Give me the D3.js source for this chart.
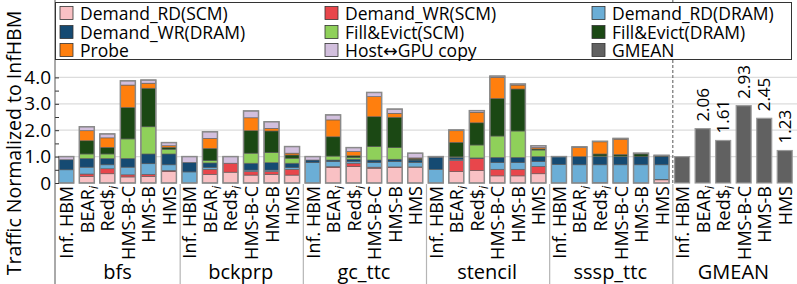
<!DOCTYPE html>
<html>
<head>
<meta charset="utf-8">
<script src="https://cdn.jsdelivr.net/npm/d3@7"></script>
<style>
  body { margin: 0; background: #fff; }
  svg text { font-family: "Open Sans", "DejaVu Sans", sans-serif; fill: #000; }
</style>
</head>
<body>
<div id="chart"></div>
<script>
// benchmarks and configurations
const groups = ["bfs", "bckprp", "gc_ttc", "stencil", "sssp_ttc", "GMEAN"];
const configs = ["Inf. HBM", "BEAR", "Red$", "HMS-B-C", "HMS-B", "HMS"];
const configSub = ["", "i", "i", "", "", ""];

const seriesNames = ["Demand_RD(SCM)", "Demand_WR(SCM)", "Demand_RD(DRAM)", "Demand_WR(DRAM)",
                     "Fill&Evict(SCM)", "Fill&Evict(DRAM)", "Probe", "Host\u2194GPU copy"];
const seriesColors = ["#f9c1c4", "#e8464b", "#6baed6", "#154a72",
                      "#8fd05a", "#1b4814", "#ff7f0e", "#d2bfdd"];
const gmeanColor = "#616161";

// one value per bar: bfs, bckprp, gc_ttc, stencil, sssp_ttc (x 6 configs each)
const demandRdScm  = [0, .25, .35, .23, .25, .43,   0, .33, .41, .30, .33, .30,   0, .58, .62, .56, .58, .60,   0, .43, .47, .27, .27, .35,   0, 0, 0, 0, 0, .12];
const demandWrScm  = [0, .09, .19, .08, .08, .04,   0, .19, .34, .13, .10, .22,   0, .04, .13, .04, .03, .01,   0, .42, .46, .25, .25, .28,   0, 0, .02, 0, 0, .02];
const demandRdDram = [.50, .26, .15, .29, .40, .22, .42, .07, 0, .06, .06, .06, .77, .19, .06, .17, .20, .17, .52, .05, 0, .25, .25, .18, .70, .69, .67, .69, .69, .55];
const demandWrDram = [.38, .33, .24, .33, .37, .41, .36, .17, 0, .26, .28, .17, .10, .06, .09, .10, .09, .09, .46, .07, .02, .20, .20, .19, .30, .31, .31, .31, .31, .31];
const fillEvictScm = [0, .17, .17, .74, 1.03, .18,  0, .09, 0, .38, .38, .19,   0, .15, .07, .51, .44, .02,   0, .02, .49, .81, 1.00, .25,  0, 0, .02, .02, 0, 0];
const fillEvictDram= [0, .50, .25, 1.19, 1.46, .07, 0, .46, 0, .85, .82, .12,   0, .73, .06, 1.13, 1.15, .04, 0, .55, .84, 1.42, 1.59, .04, 0, 0, .08, .06, .10, .02];
const probe        = [0, .38, .36, .85, .19, .06,   0, .38, 0, .49, .10, .07,   0, .64, .16, .76, .15, .02,   0, .44, .40, .80, .15, .05,   0, .35, .46, .58, 0, 0];
const hostCopy     = [.12, .15, .15, .16, .12, .12, .22, .25, .25, .26, .25, .25, .13, .19, .15, .16, .16, .18, .02, .03, .06, .05, .04, .07, 0, .02, .02, .03, .03, .03];
const gmean = [1.00, 2.06, 1.61, 2.93, 2.45, 1.23];

const yTicks = [0, 1, 2, 3, 4];
const yTickLabels = ["0", "1.0", "2.0", "3.0", "4.0"];

const series = [demandRdScm, demandWrScm, demandRdDram, demandWrDram,
                fillEvictScm, fillEvictDram, probe, hostCopy];

const WIDTH = 797, HEIGHT = 284;
const LEFT = 56, RIGHT = 795, BASE = 183;

const svg = d3.select("#chart").append("svg")
    .attr("width", WIDTH).attr("height", HEIGHT);

// every bar gets a key "group|config"
const barKeys = [];
groups.forEach(g => configs.forEach(c => barKeys.push(g + "|" + c)));

const x = d3.scaleBand().domain(barKeys).range([LEFT, RIGHT])
    .paddingInner(0.27).paddingOuter(0.135);
const y = d3.scaleLinear().domain([0, 4]).range([BASE, BASE - 4 * 26.4]);
const step = x.step();

// grid lines
svg.append("g").selectAll("line")
   .data(yTicks.filter(d => d > 0))
   .enter().append("line")
   .attr("x1", LEFT - 1).attr("x2", WIDTH)
   .attr("y1", d => y(d)).attr("y2", d => y(d))
   .attr("stroke", "#dcdcdc").attr("stroke-width", 1.2);

// stacked bars
const stackRows = [];
for (let b = 0; b < 30; b++) {
    let acc = 0;
    series.forEach((s, i) => {
        const v = s[b];
        if (v > 0) stackRows.push({key: barKeys[b], y0: acc, y1: acc + v, color: seriesColors[i]});
        acc += v;
    });
}
svg.append("g").selectAll("rect")
   .data(stackRows)
   .enter().append("rect")
   .attr("x", d => x(d.key))
   .attr("width", x.bandwidth())
   .attr("y", d => y(d.y1))
   .attr("height", d => y(d.y0) - y(d.y1))
   .attr("fill", d => d.color)
   .attr("stroke", "#5a5a5a").attr("stroke-width", 0.6);

// outline of every stacked bar
const totals = d3.range(30).map(b => ({key: barKeys[b], v: d3.sum(series, s => s[b])}));
svg.append("g").selectAll("rect")
   .data(totals)
   .enter().append("rect")
   .attr("x", d => x(d.key))
   .attr("width", x.bandwidth())
   .attr("y", d => y(d.v))
   .attr("height", d => y(0) - y(d.v))
   .attr("fill", "none")
   .attr("stroke", "#8a8a8a").attr("stroke-width", 1.5);

// gmean bars
const gmeanRows = gmean.map((v, i) => ({key: "GMEAN|" + configs[i], v: v}));
svg.append("g").selectAll("rect")
   .data(gmeanRows)
   .enter().append("rect")
   .attr("x", d => x(d.key))
   .attr("width", x.bandwidth())
   .attr("y", d => y(d.v))
   .attr("height", d => y(0) - y(d.v))
   .attr("fill", gmeanColor)
   .attr("stroke", "#9a9a9a").attr("stroke-width", 1.2);

svg.append("g").selectAll("text")
   .data(gmeanRows.slice(1))
   .enter().append("text")
   .attr("transform", d => "translate(" + (x(d.key) + x.bandwidth() / 2 + 6) + "," + (y(d.v) - 7) + ") rotate(-90)")
   .attr("font-size", 17)
   .text(d => d.v.toFixed(2));

// left axis, ticks point into the plot
const yAxis = d3.axisLeft(y).tickValues(d3.range(0, 4.01, 0.5))
    .tickSize(-4).tickPadding(4).tickFormat(d => {
        const i = yTicks.indexOf(d);
        return i >= 0 ? yTickLabels[i] : "";
    });
const yg = svg.append("g").attr("transform", "translate(" + (LEFT - 1) + ",0)").call(yAxis);
yg.select(".domain").remove();
yg.selectAll(".tick line").attr("stroke", "#333");
yg.selectAll(".tick text").attr("font-size", 19).attr("x", -4)
  .attr("font-family", "'Open Sans', sans-serif").attr("fill", "#000");
svg.append("line").attr("x1", LEFT - 1).attr("x2", LEFT - 1)
   .attr("y1", 0).attr("y2", HEIGHT).attr("stroke", "#555").attr("stroke-width", 1);

svg.append("text")
   .attr("transform", "translate(21," + 143 + ") rotate(-90)")
   .attr("text-anchor", "middle")
   .attr("font-size", 19.5)
   .text("Traffic Normalized to InfHBM");

// group separators
groups.forEach((g, i) => {
    if (i === 0) return;
    const sx = x(g + "|" + configs[0]) - (step - x.bandwidth()) / 2 + 1;
    svg.append("line").attr("x1", sx).attr("x2", sx)
       .attr("y1", BASE + 1).attr("y2", HEIGHT)
       .attr("stroke", "#b5b5b5").attr("stroke-width", 1.2);
    if (g === "GMEAN") {
        svg.append("line").attr("x1", sx).attr("x2", sx)
           .attr("y1", 0).attr("y2", BASE)
           .attr("stroke", "#555").attr("stroke-width", 1)
           .attr("stroke-dasharray", "3,2");
    }
});

// config labels
const lab = svg.append("g").selectAll("text")
   .data(barKeys)
   .enter().append("text")
   .attr("transform", d => "translate(" + (x(d) + x.bandwidth() / 2 + 7) + "," + (BASE + 3) + ") rotate(-90)")
   .attr("text-anchor", "end")
   .attr("font-size", 18);
lab.each(function(d) {
    const ci = configs.indexOf(d.split("|")[1]);
    const t = d3.select(this);
    t.append("tspan").text(configs[ci]);
    if (configSub[ci]) {
        t.append("tspan").attr("font-size", 12).attr("font-style", "italic")
         .attr("dy", 4).text(configSub[ci]);
    }
});

// group labels
svg.append("g").selectAll("text")
   .data(groups)
   .enter().append("text")
   .attr("x", g => (x(g + "|" + configs[0]) + x(g + "|" + configs[5]) + x.bandwidth()) / 2)
   .attr("y", 279)
   .attr("text-anchor", "middle")
   .attr("font-size", 20)
   .text(g => g);

// legend
const legendNames = seriesNames.concat(["GMEAN"]);
const legendColors = seriesColors.concat([gmeanColor]);
const legend = svg.append("g");
legend.append("rect").attr("x", 55.5).attr("y", 2.5).attr("width", 736).attr("height", 57)
      .attr("fill", "#fff").attr("stroke", "#333").attr("stroke-width", 1);
const colX = [60, 325, 592];
const rowY = [13, 32, 50];
legendNames.forEach((n, i) => {
    const cx = colX[i % 3], cy = rowY[Math.floor(i / 3)];
    legend.append("rect").attr("x", cx).attr("y", cy - 6.5).attr("width", 13).attr("height", 13)
          .attr("fill", legendColors[i]).attr("stroke", "#333").attr("stroke-width", 0.8);
    legend.append("text").attr("x", cx + 20).attr("y", cy + 6.5)
          .attr("font-size", 17.5).text(n);
});
</script>
</body>
</html>
